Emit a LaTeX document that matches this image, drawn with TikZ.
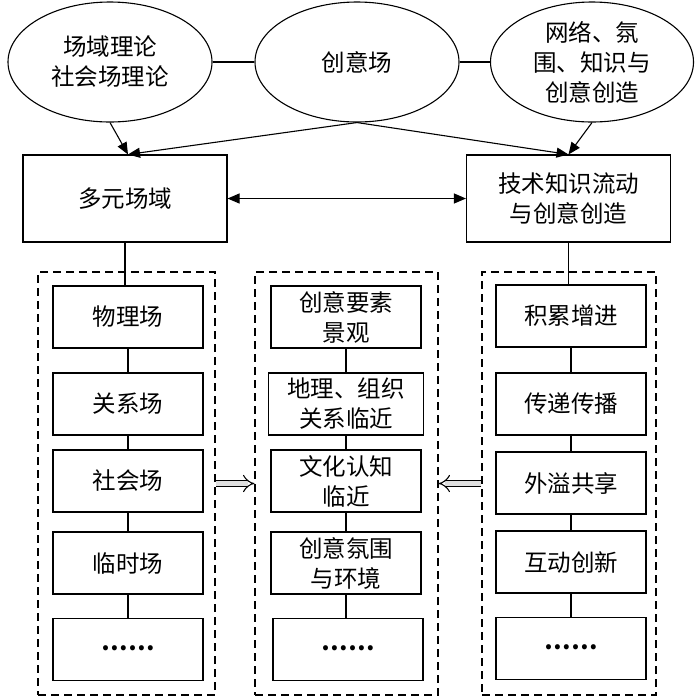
\documentclass[tikz,border=0pt]{standalone}
\usepackage{fontspec}
\newfontfamily\cjk{Noto Sans CJK SC}
\usetikzlibrary{shapes.geometric,arrows.meta,calc}
\newcommand{\mydots}{\smash{\raisebox{-0.06em}{\bfseries ……}}}
\begin{document}
\begin{tikzpicture}[x=1pt,y=-1pt,
  every node/.style={font=\cjk\fontsize{23.5}{30}\selectfont, align=center, inner sep=0pt},
  ell/.style={draw, ellipse, line width=1.1pt, minimum width=204pt, minimum height=120pt},
  bigbox/.style={draw, rectangle, line width=1.1pt, minimum width=204pt, minimum height=87pt},
  item/.style={draw, rectangle, line width=1.1pt, minimum width=150pt, minimum height=62pt},
  grp/.style={draw, rectangle, dash pattern=on 8pt off 5pt, line width=1.1pt},
  conn/.style={line width=1.1pt},
  arr/.style={line width=1.1pt, -{Triangle[length=12pt,width=10pt]}},
  darr/.style={line width=1.1pt, {Triangle[length=12pt,width=10pt]}-{Triangle[length=12pt,width=10pt]}},
  hollow/.style={double, double distance=5pt, double=gray!25, line width=1.1pt, -{Implies[scale=1.8]}},
]
\useasboundingbox (0,0) rectangle (700,697);

% top ellipses
\node[ell] (e1) at (110,62) {场域理论\\社会场理论};
\node[ell] (e2) at (357,62) {创意场};
\node[ell, minimum width=203pt] (e3) at (592,62) {网络、氛\\围、知识与\\创意创造};
\draw[conn] (e1.east) -- (e2.west);
\draw[conn] (e2.east) -- (e3.west);

% main boxes
\node[bigbox] (b1) at (125,198.5) {多元场域};
\node[bigbox] (b2) at (568.5,198.5) {技术知识流动\\与创意创造};
\draw[darr] (b1.east) -- (b2.west);

\draw[arr] (e1.south) -- ($(b1.north)+(3,0)$);
\draw[arr] (e2.south) -- ($(b1.north)+(3,0)$);
\draw[arr] (e2.south) -- ($(b2.north)+(0,0)$);
\draw[arr] (e3.south) -- ($(b2.north)+(0,0)$);

% group containers
\node[grp, minimum width=177pt, minimum height=423pt] (g1) at (126.5,483.5) {};
\node[grp, minimum width=183pt, minimum height=423pt] (g2) at (346.5,483.5) {};
\node[grp, minimum width=174pt, minimum height=423pt] (g3) at (569,483.5) {};

% left column
\node[item] (l1) at (128,317) {物理场};
\node[item] (l2) at (128,404) {关系场};
\node[item] (l3) at (128,481) {社会场};
\node[item] (l4) at (128,563) {临时场};
\node[item] (l5) at (128,649.5) {\mydots};
\draw[conn] (b1.south) -- (b1.south |- l1.north);
\draw[conn] (l1) -- (l2);
\draw[conn] (l2) -- (l3);
\draw[conn] (l3) -- (l4);
\draw[conn] (l4) -- (l5);

% middle column
\node[item] (m1) at (346,317) {创意要素\\景观};
\node[item, minimum width=155pt] (m2) at (346,404) {地理、组织\\关系临近};
\node[item] (m3) at (346,481) {文化认知\\临近};
\node[item] (m4) at (346,563) {创意氛围\\与环境};
\node[item] (m5) at (348,649.5) {\mydots};
\draw[conn] (m1) -- (m2);
\draw[conn] (m2) -- (m3);
\draw[conn] (m3) -- (m4);
\draw[conn] (m4.south) -- (m4.south |- m5.north);

% right column
\node[item] (r1) at (571,316) {积累增进};
\node[item] (r2) at (571,404) {传递传播};
\node[item] (r3) at (571,483) {外溢共享};
\node[item] (r4) at (571,562) {互动创新};
\node[item] (r5) at (571,648.5) {\mydots};
\draw[conn] (b2.south) -- (b2.south |- r1.north);
\draw[conn] (r1) -- (r2);
\draw[conn] (r2) -- (r3);
\draw[conn] (r3) -- (r4);
\draw[conn] (r4) -- (r5);

% hollow arrows
\draw[hollow] (g1.east) -- (g2.west);
\draw[hollow] (g3.west) -- (g2.east);
\end{tikzpicture}
\end{document}
